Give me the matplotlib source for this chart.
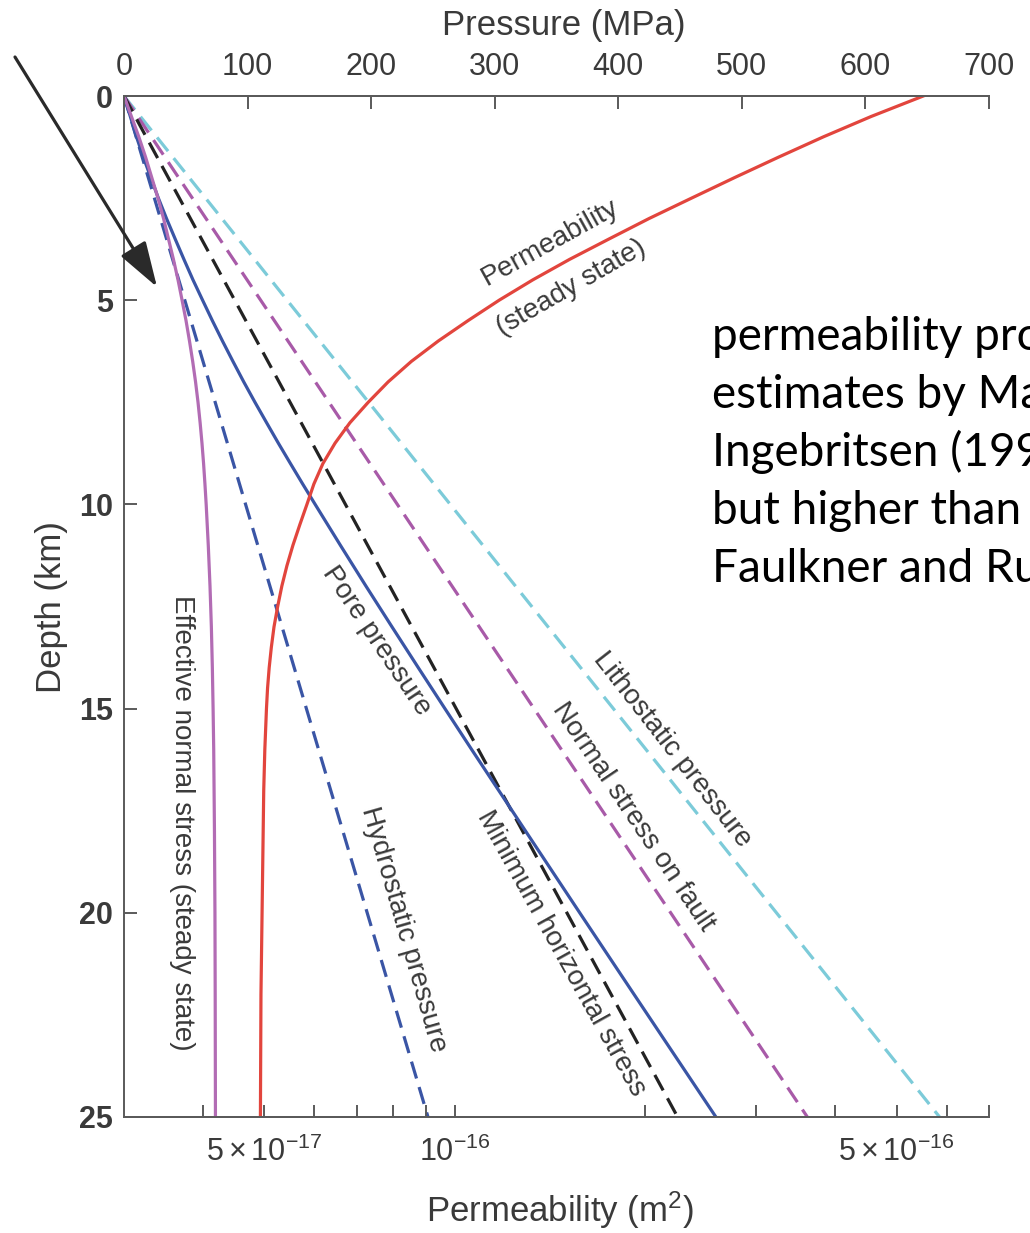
import matplotlib.pyplot as plt
from matplotlib.ticker import FixedLocator, FixedFormatter, NullFormatter

plt.rcParams['font.family'] = 'Liberation Sans'
plt.rcParams['mathtext.fontset'] = 'custom'
plt.rcParams['mathtext.rm'] = 'Liberation Sans'
plt.rcParams['mathtext.it'] = 'Liberation Sans:italic'

# --- data ---
# straight stress / pressure profiles (depth km, pressure MPa)
line_depth = [0, 25]
lithostatic = [0, 660]
normal_stress = [0, 553]
min_horizontal = [0, 448]
hydrostatic = [0, 246]

# curved profiles
curve_depth = [0, 0.5, 1, 1.5, 2, 2.5, 3, 3.5, 4, 4.5, 5, 5.5, 6, 6.5, 7, 7.5,
               8, 8.5, 9, 9.5, 10, 11, 12, 13, 14, 15, 16, 18, 20, 22, 25]
pore_pressure = [0, 5.1, 10.1, 15.7, 21.7, 27.8, 34.4, 41.4, 48.5, 55.8, 63.6,
                 71.5, 79.7, 88.2, 96.9, 106.0, 115.4, 124.9, 134.7, 144.6,
                 154.7, 175.1, 195.8, 216.9, 238.2, 259.7, 281.3, 325.0, 368.8,
                 412.8, 479]
effective_normal = [0, 6, 12, 17.5, 22.5, 27.5, 32, 36, 40, 43.7, 47, 50.2, 53,
                    55.6, 57.9, 59.9, 61.6, 63.1, 64.4, 65.5, 66.5, 68.2, 69.6,
                    70.7, 71.5, 72.1, 72.6, 73.2, 73.6, 73.8, 74]

# permeability (m^2) on the log axis
perm_depth = [0, 0.5, 1, 1.5, 2, 2.5, 3, 3.5, 4, 4.5, 5, 5.5, 6, 6.5, 7, 7.5,
              8, 8.5, 9, 9.5, 10, 10.5, 11, 11.5, 12, 12.5, 13, 13.5, 14, 14.5,
              15, 16, 17, 18, 20, 22, 25]
permeability = [5.51e-16, 4.56e-16, 3.83e-16, 3.25e-16, 2.77e-16, 2.37e-16,
                2.03e-16, 1.755e-16, 1.52e-16, 1.33e-16, 1.176e-16, 1.05e-16,
                9.42e-17, 8.54e-17, 7.85e-17, 7.30e-17, 6.83e-17, 6.47e-17,
                6.19e-17, 5.99e-17, 5.84e-17, 5.69e-17, 5.55e-17, 5.43e-17,
                5.33e-17, 5.25e-17, 5.18e-17, 5.13e-17, 5.09e-17, 5.06e-17,
                5.04e-17, 5.01e-17, 4.99e-17, 4.98e-17, 4.96e-17, 4.94e-17,
                4.93e-17]

pressure_ticks = [0, 100, 200, 300, 400, 500, 600, 700]
depth_ticks = [0, 5, 10, 15, 20, 25]
perm_major = [5e-17, 1e-16, 5e-16]
perm_major_labels = [r'$5\times10^{-17}$', r'$10^{-16}$', r'$5\times10^{-16}$']
perm_minor = [4e-17, 6e-17, 7e-17, 8e-17, 9e-17, 2e-16, 3e-16, 4e-16, 6e-16, 7e-16]

note_lines = ['permeability profile', 'estimates by Manning and',
              'Ingebritsen (1999)', 'but higher than', 'Faulkner and Rutter']

# colours
CYAN = '#7ccbd9'
PURPLE = '#a85aa8'
PURPLE_L = '#b26cb4'
BLACK = '#232323'
BLUE = '#3a55a5'
RED = '#e2453d'
GRAY = '#5a5a5a'
TXT = '#3a3a3a'

W, H = 1030, 1233
fig = plt.figure(figsize=(W / 100, H / 100), dpi=100)
ax = fig.add_axes([124 / W, 1 - 1117 / H, 865 / W, 1021 / H])
ax2 = ax.twiny()

lw = 2.3
dash = (5.5, 2.8)
ax.plot(lithostatic, line_depth, color=CYAN, lw=lw, dashes=dash)
ax.plot(normal_stress, line_depth, color=PURPLE, lw=lw, dashes=dash)
ax.plot(min_horizontal, line_depth, color=BLACK, lw=lw, dashes=dash)
ax.plot(hydrostatic, line_depth, color=BLUE, lw=lw, dashes=dash)
ax.plot(pore_pressure, curve_depth, color=BLUE, lw=lw)
ax.plot(effective_normal, curve_depth, color=PURPLE_L, lw=lw)

ax2.plot(permeability, perm_depth, color=RED, lw=lw)

ax.set_xlim(0, 700)
ax.set_ylim(25, 0)
ax2.set_xscale('log')
ax2.set_xlim(3e-17, 7e-16)

# top axis: pressure
ax.xaxis.tick_top()
ax.set_xticks(pressure_ticks)
ax.set_yticks(depth_ticks)
ax.tick_params(axis='x', direction='in', length=9, width=1.4, color=GRAY,
               labelsize=22, labelcolor=TXT, pad=10)
ax.tick_params(axis='y', direction='in', length=9, width=1.4, color=GRAY,
               labelsize=22, labelcolor=TXT, pad=8, right=False)
for lbl in ax.get_yticklabels():
    lbl.set_fontweight('bold')

# bottom axis: permeability
ax2.xaxis.tick_bottom()
ax2.xaxis.set_major_locator(FixedLocator(perm_major))
ax2.xaxis.set_major_formatter(FixedFormatter(perm_major_labels))
ax2.xaxis.set_minor_locator(FixedLocator(perm_minor))
ax2.xaxis.set_minor_formatter(NullFormatter())
ax2.tick_params(axis='x', which='both', direction='in', length=9, width=1.4,
                color=GRAY, labelsize=22, labelcolor=TXT, pad=14)

for a in (ax, ax2):
    a.spines['right'].set_visible(False)
    for s in ('left', 'top', 'bottom'):
        a.spines[s].set_color(GRAY)
        a.spines[s].set_linewidth(1.4)
ax2.spines['left'].set_visible(False)

# axis titles
fig.text(564 / W, 1 - 25 / H, 'Pressure (MPa)', fontsize=25, color=TXT,
         ha='center', va='center')
fig.text(560 / W, 1 - 1210 / H, 'Permeability (m$^2$)', fontsize=25, color=TXT,
         ha='center', va='center')
fig.text(52 / W, 1 - 607 / H, 'Depth (km)', fontsize=25, color=TXT,
         ha='center', va='center', rotation=90)

# curve labels
lab = dict(fontsize=20, color=TXT, ha='center', va='center', rotation_mode='anchor')
ax.text(47, 17.8, 'Effective normal stress (steady state)', rotation=-90, **lab)
ax.text(204, 13.35, 'Pore pressure', rotation=-56, **lab)
ax.text(226, 20.4, 'Hydrostatic pressure', rotation=-74, **lab)
ax.text(354, 21.0, 'Minimum horizontal stress', rotation=-61, **lab)
ax.text(412, 17.65, 'Normal stress on fault', rotation=-56, **lab)
ax.text(444, 16.0, 'Lithostatic pressure', rotation=-52, **lab)
ax.text(345, 3.6, 'Permeability', rotation=29, **lab)
ax.text(362, 4.7, '(steady state)', rotation=30, **lab)

# arrow pointing at the curves
ax.annotate('', xy=(157, H - 287), xycoords='figure pixels',
            xytext=(15, H - 57), textcoords='figure pixels',
            arrowprops=dict(arrowstyle='-|>,head_length=1.4,head_width=0.45',
                            color='#2a2a2a', lw=2.3, mutation_scale=20,
                            shrinkA=0, shrinkB=0),
            annotation_clip=False)

# slide note (cut by the right edge, as in the original slide)
for i, line in enumerate(note_lines):
    fig.text(712 / W, 1 - (350 + 58 * i) / H, line, fontsize=33,
             family='Lato', color='black', ha='left', va='baseline')

plt.savefig('out.png', dpi=100)
